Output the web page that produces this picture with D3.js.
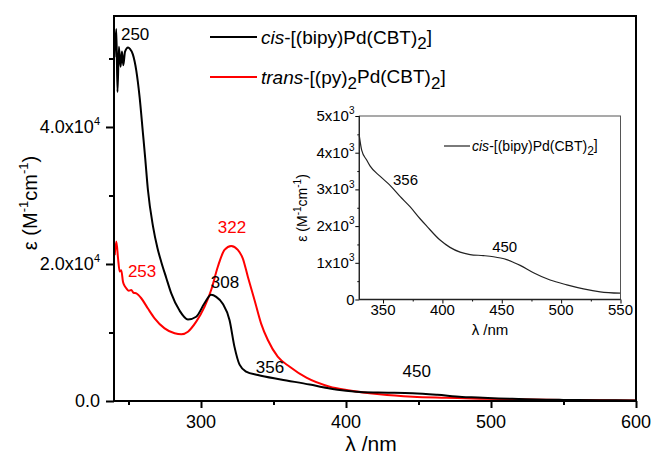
<!DOCTYPE html>
<html><head><meta charset="utf-8">
<script src="https://cdn.jsdelivr.net/npm/d3@7"></script>
<style>
html,body{margin:0;padding:0;background:#fff;}
svg{display:block;font-family:"Liberation Sans",Arial,sans-serif;}
</style></head>
<body>
<svg id="chart" width="651" height="455"></svg>
<script>
// ---- main chart data ----
const cisWavelength = [240.3,241.6,242.4,243.4,244.5,245.5,246.4,247.6,249.7,251.0,253.0,255.4,257.7,260.0,261.5,263.4,266.9,270.0,272.6,276.0,279.5,285.2,291.0,296.7,302.5,307.0,310.5,315.0,319.7,323.1,326.6,331.1,339.2,355.0,375.0,387,400,412,429,446,463,480,491,505,519,538,550,575,600];
const cisEpsilon    = [50200,54300,45100,51700,48800,51000,49000,51000,51600,51400,50600,48200,44300,39000,35500,30800,25500,22300,20300,18000,15700,13200,11900,12300,14300,15500,15200,14200,11800,7900,5300,4300,3800,3150,2400,1900,1480,1260,1210,1130,900,600,520,380,290,190,160,110,80];

const transWavelength = [240.5,241.6,242.8,243.9,245.0,246.2,247.3,248.5,250.2,251.9,253.5,255.4,258.8,263.4,268.0,274.9,281.8,286.4,291.0,296.7,302.5,307.0,311.6,316.2,320.8,325.4,328.8,332.3,336.9,341.4,346.1,352.9,361.2,372.7,388.8,400.3,423.2,446.1,469.1,492,515,549.5,600];
const transEpsilon    = [21300,23300,20800,18900,19100,17400,16800,16450,16100,16200,15800,15700,15000,13500,12070,10600,9880,9730,10120,11580,13770,16200,19600,22050,22630,22050,20830,18150,14750,11340,8900,6470,5000,3400,2090,1600,980,630,480,340,250,150,90];

// ---- inset data (cis only) ----
const insetWavelength = [330,332,336.2,339,347.4,355.9,364.3,372.7,381.2,386.8,398,406.4,414.9,423.3,434.5,443,449,454.2,460,465.5,476.7,490.7,504.8,518.8,532.9,549.7];
const insetEpsilon    = [4460,4070,3800,3641,3360,3110,2810,2530,2200,2000,1620,1420,1290,1225,1196,1165,1130,1085,1010,930,730,530,399,290,210,171];

// ---- ticks ----
const mainXMajor = [300,400,500,600];
const mainXMinor = [250,350,450,550];
const mainYMajor = [0,20000,40000];
const mainYMinor = [10000,30000,50000];
const mainYLabels = [["0.0",""],["2.0x10","4"],["4.0x10","4"]];
const insetXMajor = [350,400,450,500,550];
const insetXMinor = [375,425,475,525];
const insetYMajor = [0,1000,2000,3000,4000,5000];
const insetYMinor = [500,1500,2500,3500,4500];
const insetYLabels = [["0",""],["1x10","3"],["2x10","3"],["3x10","3"],["4x10","3"],["5x10","3"]];

// ---- annotations (in data units) ----
const mainNotes = [
  {t:"250", x:244.8, y:52700, c:"#000"},
  {t:"253", x:249.6, y:18100, c:"red"},
  {t:"322", x:311.6, y:24530, c:"red"},
  {t:"308", x:306.8, y:16500, c:"#000"},
  {t:"356", x:337.8, y:4090, c:"#000"},
  {t:"450", x:439.0, y:3500, c:"#000"}
];
const insetNotes = [
  {t:"356", x:358.4, y:3120},
  {t:"450", x:441.9, y:1294}
];

const FONT = "'Liberation Sans', Arial, sans-serif";
const svg = d3.select("#chart");

// ================= MAIN =================
const x = d3.scaleLinear().domain([240,600]).range([114,636]);
const y = d3.scaleLinear().domain([0,56200]).range([401,16]);

function ticksOnly(g, w){
  g.select(".domain").remove();
  g.selectAll(".tick line").attr("stroke","#000").attr("stroke-width",w);
  g.selectAll(".tick text").remove();
}
function supLabel(parent, xx, yy, parts, fs, sfs, anchor){
  const t = parent.append("text").attr("x",xx).attr("y",yy).attr("text-anchor",anchor)
    .attr("font-family",FONT).attr("font-size",fs).attr("fill","#000");
  t.append("tspan").text(parts[0]);
  if(parts[1]) t.append("tspan").attr("dy",-0.45*fs).attr("font-size",sfs).text(parts[1]);
  return t;
}

svg.append("g").attr("transform","translate(0,401)")
  .call(d3.axisBottom(x).tickValues(mainXMinor).tickSize(4)).call(g=>ticksOnly(g,2));
svg.append("g").attr("transform","translate(0,401)")
  .call(d3.axisBottom(x).tickValues(mainXMajor).tickSize(7)).call(g=>ticksOnly(g,2));
svg.append("g").attr("transform","translate(114,0)")
  .call(d3.axisLeft(y).tickValues(mainYMinor).tickSize(5)).call(g=>ticksOnly(g,2));
svg.append("g").attr("transform","translate(114,0)")
  .call(d3.axisLeft(y).tickValues(mainYMajor).tickSize(8)).call(g=>ticksOnly(g,2));

mainXMajor.forEach(v=>supLabel(svg, x(v), 428, [String(v),""], 18, 11, "middle"));
mainYMajor.forEach((v,i)=>supLabel(svg, 100, y(v)+6, mainYLabels[i], 18, 11, "end"));

// curves
const lineMain = d3.line().x(d=>x(d[0])).y(d=>y(d[1])).curve(d3.curveMonotoneX);
const transPts = transWavelength.map((w,i)=>[w,transEpsilon[i]]);
const cisPts = cisWavelength.map((w,i)=>[w,cisEpsilon[i]]);
svg.append("path").datum(transPts).attr("d",lineMain).attr("fill","none").attr("stroke","#ff0000").attr("stroke-width",2);
svg.append("path").datum(cisPts).attr("d",lineMain).attr("fill","none").attr("stroke","#000").attr("stroke-width",2);

// frame
svg.append("rect").attr("x",114).attr("y",16).attr("width",636-114).attr("height",401-16)
  .attr("fill","none").attr("stroke","#000").attr("stroke-width",2);

// annotations
mainNotes.forEach(n=>{
  svg.append("text").attr("x",x(n.x)).attr("y",y(n.y)).attr("fill",n.c)
    .attr("font-family",FONT).attr("font-size",17).text(n.t);
});

// axis titles
svg.append("text").attr("x",371).attr("y",451).attr("text-anchor","middle")
  .attr("font-family",FONT).attr("font-size",21).text("λ /nm");
function epsTitle(tx, ty, fs, sfs){
  const t = svg.append("text").attr("transform",`translate(${tx},${ty}) rotate(-90)`).attr("text-anchor","middle")
    .attr("font-family",FONT).attr("font-size",fs);
  t.append("tspan").text("ε (M");
  t.append("tspan").attr("dy",-0.45*fs).attr("font-size",sfs).text("-1");
  t.append("tspan").attr("dy",0.45*fs).text("cm");
  t.append("tspan").attr("dy",-0.45*fs).attr("font-size",sfs).text("-1");
  t.append("tspan").attr("dy",0.45*fs).text(")");
}
epsTitle(37,203,20,13);

// legend
const legend = [
  {c:"#000", y:37, parts:[["i","cis"],["n","-[(bipy)Pd(CBT)"],["s","2"],["n","]"]]},
  {c:"#ff0000", y:77, parts:[["i","trans"],["n","-[(py)"],["s","2"],["n","Pd(CBT)"],["s","2"],["n","]"]]}
];
function richText(t, parts, subSize){
  let down = false;
  parts.forEach(p=>{
    const s = t.append("tspan").text(p[1]);
    if(p[0]==="i") s.attr("font-style","italic");
    if(p[0]==="s"){ s.attr("dy","0.3em").attr("font-size",subSize); down=true; }
    else if(down){ s.attr("dy","-0.3em"); down=false; }
  });
}
legend.forEach(l=>{
  svg.append("line").attr("x1",210).attr("x2",257).attr("y1",l.y).attr("y2",l.y).attr("stroke",l.c).attr("stroke-width",2);
  const t = svg.append("text").attr("x",261).attr("y",l.y+7).attr("font-family",FONT).attr("font-size",19).attr("fill","#000");
  richText(t,l.parts,17);
});

// ================= INSET =================
const xi = d3.scaleLinear().domain([330,550]).range([359.3,620.5]);
const yi = d3.scaleLinear().domain([0,5000]).range([299.5,116]);

svg.append("rect").attr("x",359.3).attr("y",116).attr("width",620.5-359.3).attr("height",299.5-116)
  .attr("fill","none").attr("stroke","#555").attr("stroke-width",1);

svg.append("g").attr("transform","translate(0,299.5)")
  .call(d3.axisBottom(xi).tickValues(insetXMinor).tickSize(2)).call(g=>ticksOnly(g,1));
svg.append("g").attr("transform","translate(0,299.5)")
  .call(d3.axisBottom(xi).tickValues(insetXMajor).tickSize(4)).call(g=>ticksOnly(g,1));
svg.append("g").attr("transform","translate(359.3,0)")
  .call(d3.axisLeft(yi).tickValues(insetYMinor).tickSize(2)).call(g=>ticksOnly(g,1));
svg.append("g").attr("transform","translate(359.3,0)")
  .call(d3.axisLeft(yi).tickValues(insetYMajor).tickSize(4)).call(g=>ticksOnly(g,1));
insetXMajor.forEach(v=>supLabel(svg, xi(v), 315, [String(v),""], 15, 10, "middle"));
insetYMajor.forEach((v,i)=>supLabel(svg, 354.5, yi(v)+5, insetYLabels[i], 15, 10, "end"));

svg.append("line").attr("x1",359.3).attr("x2",620.5).attr("y1",299.5).attr("y2",299.5).attr("stroke","#222").attr("stroke-width",1.3);
svg.append("line").attr("x1",359.3).attr("x2",359.3).attr("y1",116).attr("y2",299.5).attr("stroke","#222").attr("stroke-width",1.3);

const lineInset = d3.line().x(d=>xi(d[0])).y(d=>yi(d[1])).curve(d3.curveMonotoneX);
svg.append("path").datum(insetWavelength.map((w,i)=>[w,insetEpsilon[i]]))
  .attr("d",lineInset).attr("fill","none").attr("stroke","#222").attr("stroke-width",1.2);

insetNotes.forEach(n=>{
  svg.append("text").attr("x",xi(n.x)).attr("y",yi(n.y)).attr("font-family",FONT).attr("font-size",15).text(n.t);
});

svg.append("line").attr("x1",444).attr("x2",470).attr("y1",146).attr("y2",146).attr("stroke","#222").attr("stroke-width",1.2);
const il = svg.append("text").attr("x",472).attr("y",151).attr("font-family",FONT).attr("font-size",14);
richText(il,[["i","cis"],["n","-[(bipy)Pd(CBT)"],["s","2"],["n","]"]],12);

svg.append("text").attr("x",490).attr("y",335).attr("text-anchor","middle").attr("font-family",FONT).attr("font-size",15).text("λ /nm");
epsTitle(307,208,14,10);
</script>
</body></html>
